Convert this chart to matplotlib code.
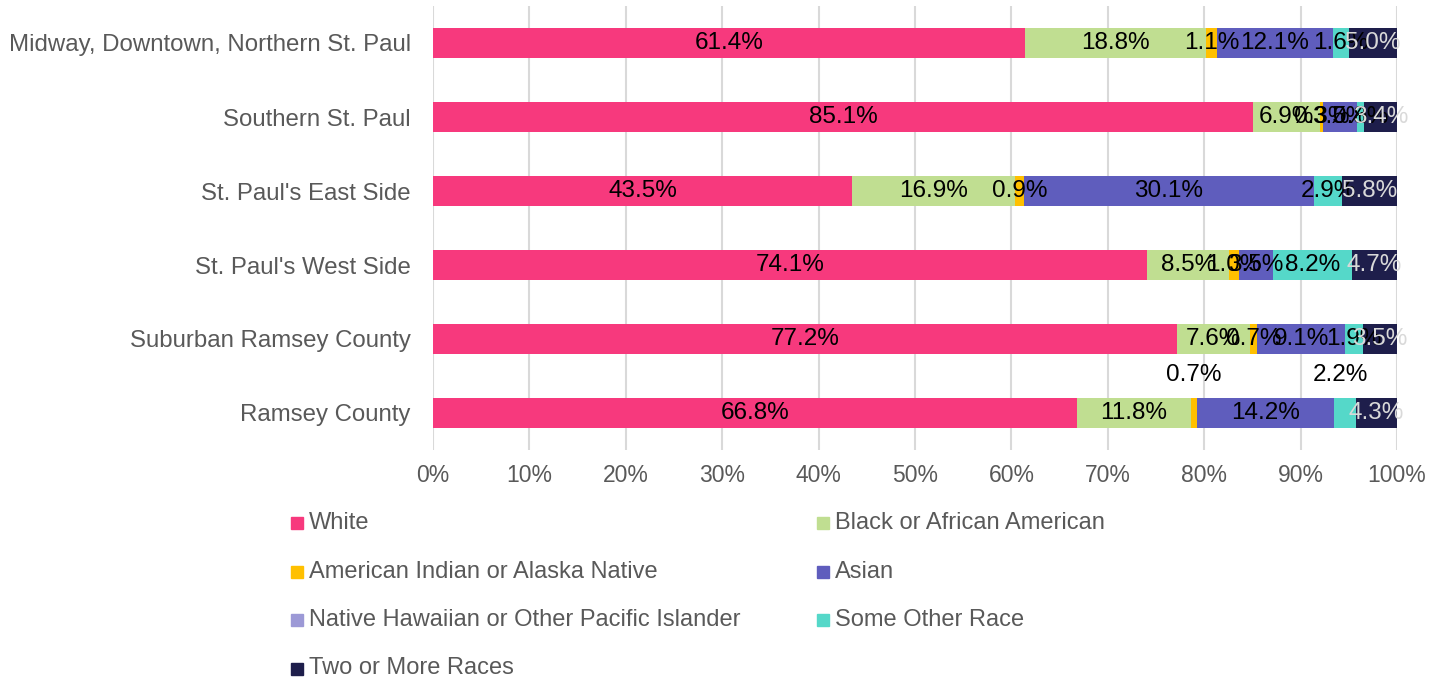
import matplotlib.pyplot as plt
from matplotlib.lines import Line2D
import numpy as np

plt.rcParams['font.family'] = ['Liberation Sans', 'DejaVu Sans']

areas = ['Midway, Downtown, Northern St. Paul', 'Southern St. Paul', "St. Paul's East Side",
         "St. Paul's West Side", 'Suburban Ramsey County', 'Ramsey County']
races = ['White', 'Black or African American', 'American Indian or Alaska Native', 'Asian',
         'Native Hawaiian or Other Pacific Islander', 'Some Other Race', 'Two or More Races']

white = [61.4, 85.1, 43.5, 74.1, 77.2, 66.8]
black = [18.8, 6.9, 16.9, 8.5, 7.6, 11.8]
aian = [1.1, 0.3, 0.9, 1.0, 0.7, 0.7]
asian = [12.1, 3.5, 30.1, 3.5, 9.1, 14.2]
nhpi = [0.0, 0.0, 0.0, 0.0, 0.0, 0.0]
other = [1.6, 0.8, 2.9, 8.2, 1.9, 2.2]
multi = [5.0, 3.4, 5.8, 4.7, 3.5, 4.3]

colors = ['#F7397D', '#C0DE91', '#FFC000', '#5F5DBD', '#9C99D6', '#55D8C9', '#1E1E4B']
label_colors = ['black', 'black', 'black', 'black', 'black', 'black', '#D9D9D9']
gray = '#595959'

series = [white, black, aian, asian, nhpi, other, multi]

fig = plt.figure(figsize=(14.41, 6.83), dpi=100)
ax = fig.add_axes([433 / 1441, 1 - 450 / 683, 964 / 1441, 444 / 683])

y = np.arange(len(areas))
left = np.zeros(len(areas))
for k, vals in enumerate(series):
    vals = np.array(vals)
    ax.barh(y, vals, left=left, height=0.405, color=colors[k], zorder=3)
    for i, v in enumerate(vals):
        if v <= 0:
            continue
        cx = left[i] + v / 2
        cy = y[i]
        # Ramsey County small segments get their labels lifted above the bar
        if i == len(areas) - 1 and k in (2, 5):
            cy = y[i] - 0.51
            if k == 5:
                cx -= 0.5
            col = 'black'
        else:
            col = label_colors[k]
        ax.text(cx, cy, '%.1f%%' % v, ha='center', va='center', fontsize=17.5,
                color=col, zorder=4)
    left += vals

ax.set_xlim(0, 100)
ax.set_ylim(len(areas) - 0.5, -0.5)
ax.set_yticks(y)
ax.set_yticklabels(areas, fontsize=17.3, color=gray)
ax.set_xticks(np.arange(0, 101, 10))
ax.set_xticklabels(['%d%%' % t for t in range(0, 101, 10)], fontsize=16.5, color=gray)
ax.tick_params(length=0)
ax.tick_params(axis='x', pad=10)
ax.tick_params(axis='y', pad=16)
ax.grid(axis='x', color='#D9D9D9', lw=1.5, zorder=0)
for s in ax.spines.values():
    s.set_visible(False)

# legend laid out by rows, two columns
for k, name in enumerate(races):
    row, col = divmod(k, 2)
    x0 = (297 + col * 526) / 1441
    y0 = 1 - (523 + row * 48.5) / 683
    fig.add_artist(Line2D([x0], [y0], marker='s', ms=9, color=colors[k],
                          transform=fig.transFigure))
    fig.text(x0 + 12 / 1441, y0, name, fontsize=17, color=gray, va='center', ha='left')

fig.savefig('out.png', dpi=100)
